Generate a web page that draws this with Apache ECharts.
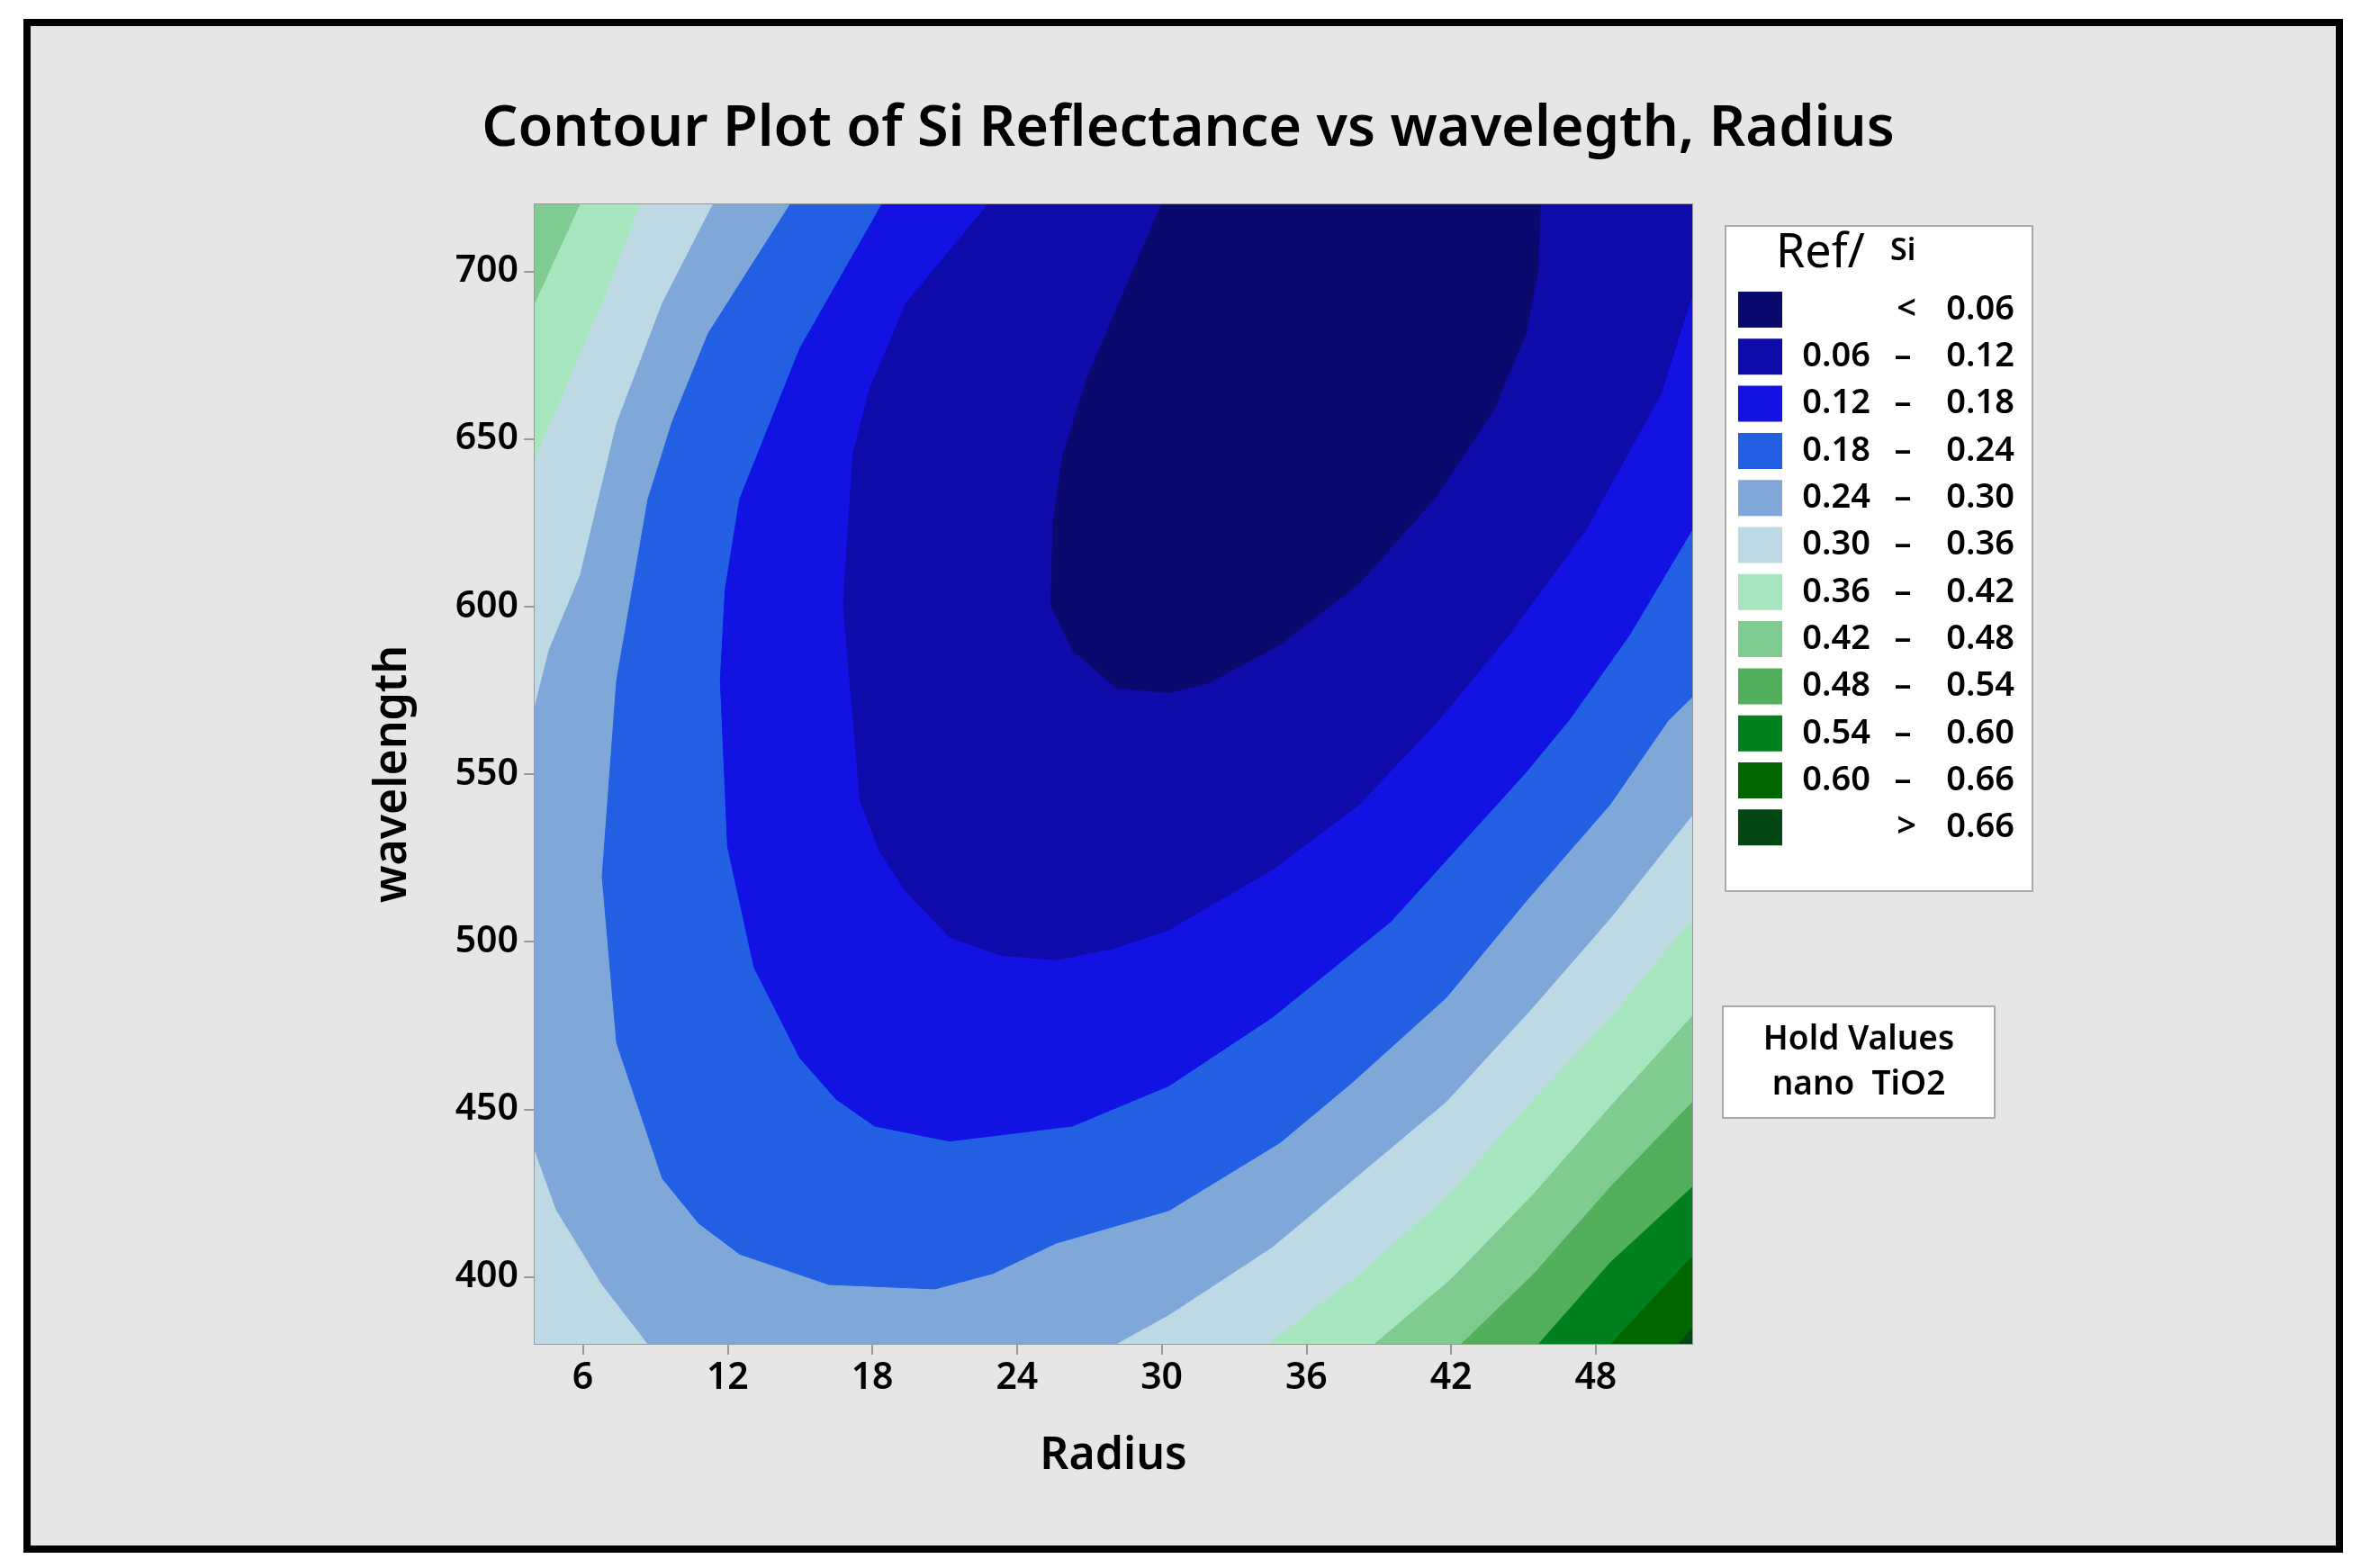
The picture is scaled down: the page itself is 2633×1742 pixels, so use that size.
<!DOCTYPE html>
<html><head><meta charset="utf-8">
<script src="https://cdn.jsdelivr.net/npm/echarts@6/dist/echarts.min.js"></script>
<style>html,body{margin:0;padding:0;background:#fff}#c{width:2633px;height:1742px}</style>
</head><body><div id="c"></div>
<script>
// Legend levels
const levelLo = ['', '0.06', '0.12', '0.18', '0.24', '0.30', '0.36', '0.42', '0.48', '0.54', '0.60', ''];
const levelHi = ['0.06', '0.12', '0.18', '0.24', '0.30', '0.36', '0.42', '0.48', '0.54', '0.60', '0.66', '0.66'];
const levelColors = ['#0A0A6E','#0E0BAA','#1212E2','#235FE2','#7FA8D8','#BDDAE4','#A7E5BE','#80CB8F','#52B05C','#00801F','#006600','#044715'];
const xTicks = [6, 12, 18, 24, 30, 36, 42, 48];
const yTicks = [400, 450, 500, 550, 600, 650, 700];
// Regions where Reflectance < threshold (Radius, wavelength)
const region0 = [[30.0,720],[28.2,690],[26.9,668],[25.9,645],[25.5,625],[25.4,600.5],[26.3,587],[28.1,575.7],[30.3,574.3],[31.9,577],[35,589],[38.2,607],[41.3,632],[43.8,659],[45.1,681.5],[45.6,700],[45.7,720]];
const region1 = [[22.8,720],[19.4,690.5],[17.9,665],[17.2,645.5],[16.8,600.5],[17.5,542],[18.3,527],[19.4,515],[21.2,501.4],[23.3,496],[25.6,494.6],[28,498],[30.3,503.6],[34.6,521.6],[38.2,541],[41.5,566.2],[44.4,591.5],[47.6,623],[50.7,663.5],[52,693],[52,720]];
const region2 = [[18.4,720],[15,677],[12.5,632],[11.9,605],[11.7,578],[12,528.4],[13.1,492.3],[15,465.3],[16.5,453],[18.1,445],[21.2,440.5],[26.3,445],[30.3,457],[34.6,477.5],[39.5,506],[45.1,550.5],[46.9,566.2],[49.4,591.5],[52,623],[52,720]];
const region3 = [[14.6,720],[11.2,681.5],[9.7,655],[8.7,632],[7.4,578],[6.8,519.4],[7.4,469.8],[9.3,429.3],[10.8,416],[12.5,406.8],[16.2,397.7],[20.6,396.4],[23,401],[25.6,410],[30.3,419.8],[34.9,440],[37.9,458],[41.8,483.3],[45.1,512],[48.6,541],[51,566],[52,573],[52,720]];
const region4 = [[11.4,720],[9.3,690.5],[7.4,654.5],[5.9,609.5],[4.6,587],[4,569.8],[4,438],[4.9,420],[6.8,397.7],[8.7,380],[28.1,380],[30.3,388.7],[34.6,409],[38.2,430.6],[41.8,452.3],[45.3,479.7],[48.6,507],[52,537.8],[52,720]];
const region5 = [[8.4,720],[52,720],[52,507],[48.6,477.5],[45.3,452.3],[41.8,423.9],[38.2,400.9],[34.4,380],[4,380],[4,643.7],[5.2,663.5],[6.8,690.5]];
const region6 = [[5.9,720],[52,720],[52,478],[48.6,451],[45.4,424.8],[42,399.5],[38.8,380],[4,380],[4,690]];
const region7 = [[4,720],[52,720],[52,452.3],[48.6,427],[45.4,400.9],[42.4,380],[4,380]];
const region8 = [[4,720],[52,720],[52,427],[48.6,404.5],[45.6,380],[4,380]];
const region9 = [[4,720],[52,720],[52,406.3],[48.6,380],[4,380]];
const region10 = [[4,720],[52,720],[52,385],[51.4,380],[4,380]];
const region11 = [[4,720],[52,720],[52,380],[4,380]];
const regions = [region0,region1,region2,region3,region4,region5,region6,region7,region8,region9,region10,region11];

const chart = echarts.init(document.getElementById('c'));
const font = 'Noto Sans';
const drawOrder = [11,10,9,8,7,6,5,4,3,2,1,0];

const graphics = [
  {type:'rect', z:-10, shape:{x:30,y:25,width:2569,height:1696}, style:{fill:'#E6E6E6', stroke:'#000', lineWidth:8}},
  {type:'rect', shape:{x:1917,y:251,width:341,height:739}, style:{fill:'#fff', stroke:'#aaa', lineWidth:2}},
  {type:'text', left:1973, top:256, style:{text:'Ref/', font:'52px "Noto Sans"', fill:'#000'}},
  {type:'text', left:2100, top:262, style:{text:'Si', font:'600 34px "Noto Sans"', fill:'#000'}},
  {type:'rect', shape:{x:1914,y:1118,width:302,height:124}, style:{fill:'#fff', stroke:'#aaa', lineWidth:2}},
  {type:'text', x:2065, y:1155, style:{text:'Hold Values', font:'600 37px "Noto Sans"', fill:'#000', align:'center', verticalAlign:'middle'}},
  {type:'text', x:2065, y:1205, style:{text:'nano  TiO2', font:'600 37px "Noto Sans"', fill:'#000', align:'center', verticalAlign:'middle'}}
];
for (let i = 0; i < levelColors.length; i++) {
  const yc = 344 + i * 52.3;
  graphics.push({type:'rect', shape:{x:1931,y:yc-20,width:49,height:40}, style:{fill:levelColors[i]}});
  const f = '600 38px "Noto Sans"';
  if (i === 0 || i === levelColors.length - 1) {
    graphics.push({type:'text', x:2118, y:yc, style:{text: i === 0 ? '<' : '>', font:f, fill:'#000', align:'center', verticalAlign:'middle'}});
  } else {
    graphics.push({type:'text', x:2078, y:yc, style:{text:levelLo[i], font:f, fill:'#000', align:'right', verticalAlign:'middle'}});
    graphics.push({type:'text', x:2114, y:yc, style:{text:'–', font:f, fill:'#000', align:'center', verticalAlign:'middle'}});
  }
  graphics.push({type:'text', x:2238, y:yc, style:{text:levelHi[i], font:f, fill:'#000', align:'right', verticalAlign:'middle'}});
}

chart.setOption({
  backgroundColor:'#fff',
  animation:false,
  title:{text:'Contour Plot of Si Reflectance vs wavelegth, Radius', left:1315, top:108, textAlign:'center',
    textStyle:{fontFamily:font, fontSize:63, fontWeight:600, color:'#000'}},
  grid:{left:594, top:227, width:1286, height:1266, show:true, borderColor:'#999', borderWidth:2, backgroundColor:'transparent'},
  xAxis:{type:'value', min:4, max:52, name:'Radius', nameLocation:'middle', nameGap:100,
    nameTextStyle:{fontFamily:font, fontSize:50, fontWeight:600, color:'#000'},
    axisLine:{show:true, lineStyle:{color:'#999', width:2}},
    axisTick:{show:true, customValues:xTicks, length:12, lineStyle:{color:'#999', width:2}},
    axisLabel:{customValues:xTicks, fontFamily:font, fontSize:41, fontWeight:600, color:'#000', margin:18},
    splitLine:{show:false}},
  yAxis:{type:'value', min:380, max:720, name:'wavelength', nameLocation:'middle', nameGap:132,
    nameTextStyle:{fontFamily:font, fontSize:50, fontWeight:600, color:'#000'},
    axisLine:{show:true, lineStyle:{color:'#999', width:2}},
    axisTick:{show:true, customValues:yTicks, length:12, lineStyle:{color:'#999', width:2}},
    axisLabel:{customValues:yTicks, fontFamily:font, fontSize:41, fontWeight:600, color:'#000', margin:18},
    splitLine:{show:false}},
  graphic: graphics,
  series:[{
    type:'custom', clip:true,
    data: drawOrder.map(i => [28, 550, i]),
    encode:{x:0, y:1},
    renderItem: function(params, api) {
      const idx = api.value(2);
      const pts = regions[idx].map(p => api.coord(p));
      return {type:'polygon', shape:{points:pts}, style:{fill:levelColors[idx], stroke:levelColors[idx], lineWidth:1}};
    }
  }]
});
</script></body></html>
